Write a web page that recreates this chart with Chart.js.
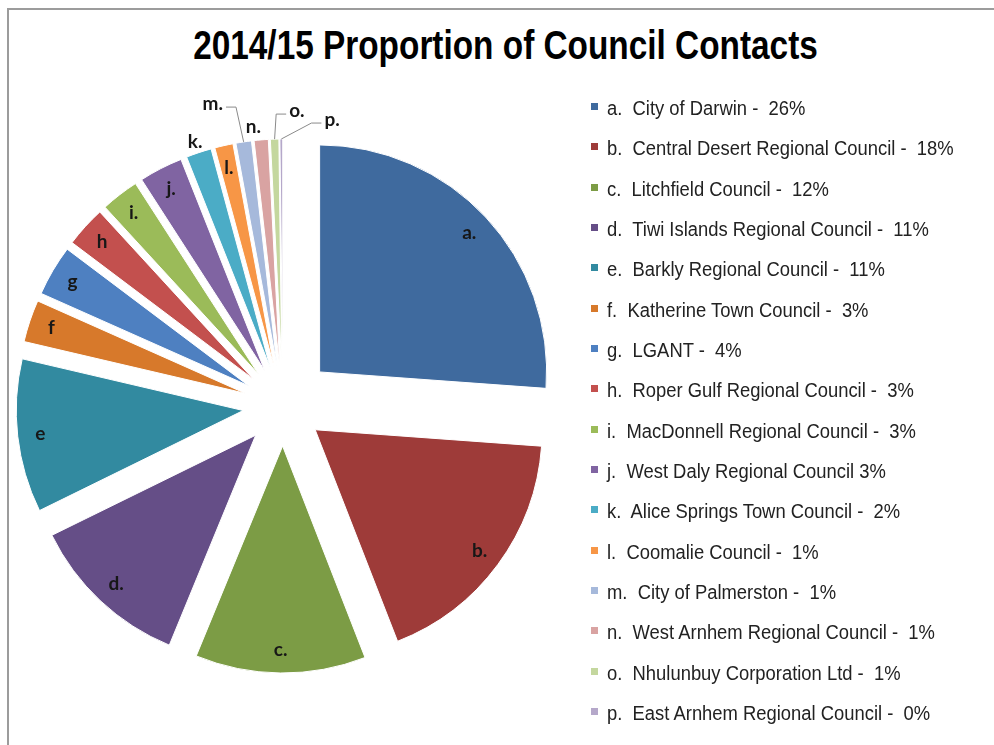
<!DOCTYPE html>
<html>
<head>
<meta charset="utf-8">
<title>2014/15 Proportion of Council Contacts</title>
<style>
  html, body { margin: 0; padding: 0; background: #fff; overflow: hidden; }
  body { width: 994px; height: 745px; position: relative; }
  #frame { position: absolute; left: 7px; top: 8px; width: 1000px; height: 800px;
           border-top: 2px solid #9c9c9c; border-left: 2px solid #9c9c9c; }
  #title { position: absolute; left: 0; top: 25px; width: 1011px; text-align: center;
           font: bold 40px/40px "Liberation Sans", Arial, sans-serif;
           color: #000; white-space: nowrap; transform: scaleX(0.834); transform-origin: 505.5px 0; }
  #chart { position: absolute; left: 0; top: 0; }
  .item { position: absolute; left: 591px; height: 24px; padding-left: 16px;
          font: 20px/24px "Liberation Sans", Arial, sans-serif; color: #222; white-space: pre; }
  .item .box { position: absolute; left: 0; top: 7px; width: 7px; height: 7px; }
  .item .txt { display: inline-block; transform: scaleX(0.92); transform-origin: 0 0; }
</style>
</head>
<body>
<div id="frame"></div>
<div id="title">2014/15 Proportion of Council Contacts</div>
<canvas id="chart" width="994" height="745"></canvas>
<div id="legend"></div>
<script src="https://cdn.jsdelivr.net/npm/chart.js@4.4.0/dist/chart.umd.min.js"></script>
<script>
// slice letters as printed on the pie
const sliceLabels = ['a.', 'b.', 'c.', 'd.', 'e', 'f', 'g', 'h', 'i.', 'j.', 'k.', 'l.', 'm.', 'n.', 'o.', 'p.'];

// legend entries, as printed
const legendText = [
  'a.  City of Darwin -  26%',
  'b.  Central Desert Regional Council -  18%',
  'c.  Litchfield Council -  12%',
  'd.  Tiwi Islands Regional Council -  11%',
  'e.  Barkly Regional Council -  11%',
  'f.  Katherine Town Council -  3%',
  'g.  LGANT -  4%',
  'h.  Roper Gulf Regional Council -  3%',
  'i.  MacDonnell Regional Council -  3%',
  'j.  West Daly Regional Council 3%',
  'k.  Alice Springs Town Council -  2%',
  'l.  Coomalie Council -  1%',
  'm.  City of Palmerston -  1%',
  'n.  West Arnhem Regional Council -  1%',
  'o.  Nhulunbuy Corporation Ltd -  1%',
  'p.  East Arnhem Regional Council -  0%'
];

// share of contacts (%)
const shares = [26.1, 17.9, 12.1, 11.5, 10.9, 3.0, 3.6, 2.9, 2.7, 3.1, 1.8, 1.3, 1.1, 1.0, 0.6, 0.2];

const colors = ['#3F6A9E', '#9E3B39', '#7C9C45', '#654E87', '#328AA0', '#D7792B',
                '#4E80C1', '#C3504E', '#9BBB59', '#8064A2', '#4BACC6', '#F79646',
                '#A6B9DB', '#D9A3A2', '#C4D79E', '#B5A8CA'];

// how far each slice is pulled out of the pie
const offsets = shares.map((_, i) => i === 0 ? 50 : 40);

// labels that sit outside the pie (radius factor, turn in degrees, leader side)
const outside = {
  'k.': { r: 1.05 },
  'n.': { r: 1.06, turn: -1.6 },
  'm.': { r: 1.19, turn: -5.3, leader: 1 },
  'o.': { r: 1.125, turn: 5.2, leader: -1 },
  'p.': { r: 1.105, turn: 11.7, leader: -1 }
};

// legend, built from the same arrays
const legend = document.getElementById('legend');
legendText.forEach((t, i) => {
  const row = document.createElement('div');
  row.className = 'item';
  row.style.top = (95.8 + i * 40.35) + 'px';
  const box = document.createElement('span');
  box.className = 'box';
  box.style.background = colors[i];
  const txt = document.createElement('span');
  txt.className = 'txt';
  txt.textContent = t;
  row.appendChild(box);
  row.appendChild(txt);
  legend.appendChild(row);
});

// draw every arc moved out along its own bisector
const explodePlugin = {
  id: 'explode',
  beforeDatasetDraw(chart, args) {
    const ctx = chart.ctx;
    args.meta.data.forEach((arc, i) => {
      const mid = (arc.startAngle + arc.endAngle) / 2;
      ctx.save();
      ctx.translate(Math.cos(mid) * offsets[i], Math.sin(mid) * offsets[i]);
      arc.draw(ctx);
      ctx.restore();
    });
    return false;
  }
};

const labelPlugin = {
  id: 'sliceLabels',
  afterDatasetsDraw(chart) {
    const ctx = chart.ctx;
    const arcs = chart.getDatasetMeta(0).data;
    ctx.save();
    ctx.font = 'bold 19px Lato, "Liberation Sans", sans-serif';
    ctx.textAlign = 'center';
    ctx.textBaseline = 'middle';
    arcs.forEach((arc, i) => {
      const mid = (arc.startAngle + arc.endAngle) / 2;
      const cx = arc.x + Math.cos(mid) * offsets[i];
      const cy = arc.y + Math.sin(mid) * offsets[i];
      const o = outside[sliceLabels[i]] || {};
      const r = arc.outerRadius * (o.r || 0.9);
      const a = mid + (o.turn || 0) * Math.PI / 180;
      const x = cx + Math.cos(a) * r;
      const y = cy + Math.sin(a) * r;
      if (o.leader) {
        const w = ctx.measureText(sliceLabels[i]).width / 2;
        const x0 = x + o.leader * (w + 3);
        const x1 = x + o.leader * (w + 13);
        ctx.strokeStyle = '#8a8a8a';
        ctx.lineWidth = 1;
        ctx.beginPath();
        ctx.moveTo(x0, y + 3);
        ctx.lineTo(x1, y + 3);
        ctx.lineTo(cx + Math.cos(mid) * arc.outerRadius, cy + Math.sin(mid) * arc.outerRadius);
        ctx.stroke();
      }
      ctx.fillStyle = '#171717';
      ctx.fillText(sliceLabels[i], x, y);
    });
    ctx.restore();
  }
};

new Chart(document.getElementById('chart'), {
  type: 'pie',
  data: {
    labels: legendText,
    datasets: [{
      data: shares,
      backgroundColor: colors,
      borderColor: '#fff',
      borderWidth: 1
    }]
  },
  options: {
    responsive: false,
    animation: false,
    radius: 227,
    layout: { padding: { left: 0, right: 428, top: 67, bottom: 0 } },
    plugins: {
      legend: { display: false },
      title: { display: false },
      tooltip: { enabled: false }
    }
  },
  plugins: [explodePlugin, labelPlugin]
});
</script>
</body>
</html>
